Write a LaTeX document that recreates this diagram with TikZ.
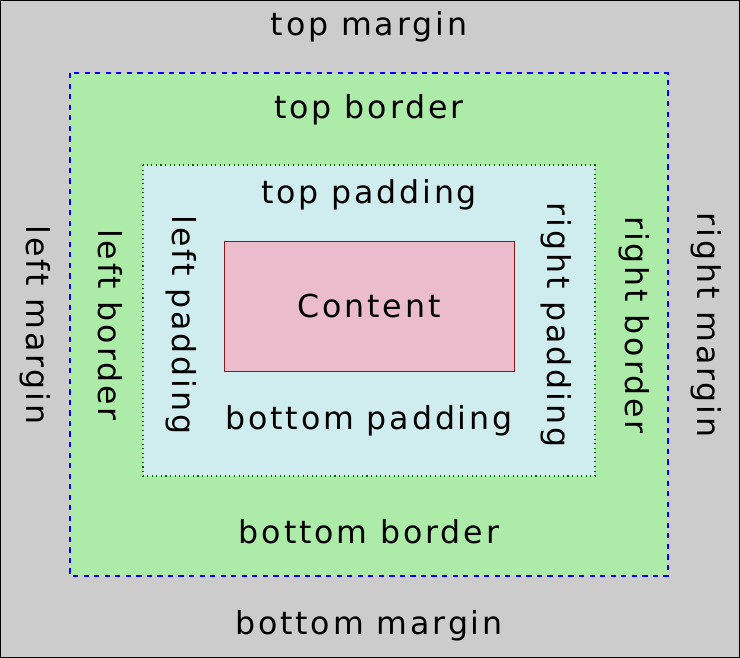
\documentclass[tikz,border=0pt]{standalone}
\usepackage{fontspec}
\setmainfont[LetterSpace=9]{DejaVu Sans}
\usepackage{xcolor}
\definecolor{margingray}{HTML}{CCCCCC}
\definecolor{bordergreen}{HTML}{ADEBA8}
\definecolor{paddingblue}{HTML}{CFEDEE}
\definecolor{contentpink}{HTML}{EBBCCB}
\definecolor{contentred}{HTML}{8B1A1A}
\begin{document}
\begin{tikzpicture}[x=0.02cm,y=-0.02cm]
  \tikzset{every node/.style={font=\fontsize{18}{21}\selectfont,inner sep=0pt}};
  \tikzset{side/.style={rotate=-90}};
  \useasboundingbox (0,0) rectangle (740,658);
  \fill[margingray,draw=black,line width=0.6pt] (0.5,0.5) rectangle (739.5,657.5);
  \fill[bordergreen,draw=blue,dashed,line width=0.6pt] (70,73) rectangle (668,576);
  \fill[paddingblue,draw=black!60!green,dotted,line width=0.6pt] (143,165) rectangle (595,476);
  \node[draw=contentred,fill=contentpink,minimum width=5.8cm,minimum height=2.6cm] (content) at (369,306) {Content};
  \node (tm) at (369,27) {top margin};
  \node (tb) at (369,110) {top border};
  \node (tp) at (369,195) {top padding};
  \node (bp) at (369,421) {bottom padding};
  \node (bb) at (369,532) {bottom border};
  \node (bm) at (369,626) {bottom margin};
  \node[side] (lm) at (35,325) {left margin};
  \node[side] (lb) at (110,325) {left border};
  \node[side] (lp) at (181,325) {left padding};
  \node[side] (rp) at (556,325) {right padding};
  \node[side] (rb) at (634,325) {right border};
  \node[side] (rm) at (706,325) {right margin};
\end{tikzpicture}
\end{document}
